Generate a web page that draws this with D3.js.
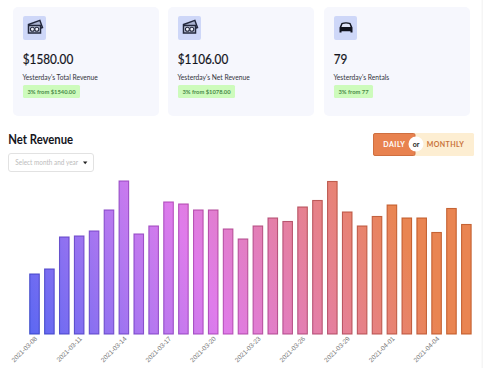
<!DOCTYPE html>
<head>
    <meta charset="utf-8">
    <script src="https://d3js.org/d3.v7.min.js"></script>
    <style>
        html, body { margin: 0; padding: 0; background: #fff; overflow: hidden; }
        svg { display: block; font-family: Lato, "Open Sans", sans-serif; }
        /* the whole page looks a bit narrowed, so text is squeezed from its left edge */
        .sq { transform-box: fill-box; transform-origin: 0 50%; transform: scaleX(0.87); }
        .amount { font-size: 13.5px; fill: #14141c; stroke: #14141c; stroke-width: 0.2px; }
        .caption { font-size: 7.7px; fill: #33343c; }
        .pill { font-size: 5.8px; font-weight: 700; fill: #4a8a4a; }
        .title { font-size: 13px; font-weight: 700; fill: #14141c; }
        .tick text { font-size: 6.5px; fill: #777; }
    </style>
</head>
<body>
<svg id="chart" width="483" height="368"></svg>
<script>
    // data
    var days = ["2021-03-08","2021-03-09","2021-03-10","2021-03-11","2021-03-12","2021-03-13","2021-03-14","2021-03-15","2021-03-16","2021-03-17",
        "2021-03-18","2021-03-19","2021-03-20","2021-03-21","2021-03-22","2021-03-23","2021-03-24","2021-03-25","2021-03-26","2021-03-27",
        "2021-03-28","2021-03-29","2021-03-30","2021-03-31","2021-04-01","2021-04-02","2021-04-03","2021-04-04","2021-04-05","2021-04-06"];
    var netRevenue = [600,650,970,980,1030,1240,1530,1000,1080,1320,1300,1240,1240,1050,950,1080,1160,1125,1270,1335,1525,1220,1080,1175,1290,1160,1160,1015,1255,1095];
    var amounts = ["$1580.00","$1106.00","79"];
    var captions = ["Yesterday's Total Revenue","Yesterday's Net Revenue","Yesterday's Rentals"];
    var pills = ["3% from $1540.00","3% from $1078.00","3% from 77"];
    var pillWidths = [57,57,39];
    var cardX = [13,168,324];
    var cardIcons = ["money","money","car"];

    var svg = d3.select("#chart");
    var defs = svg.append("defs");

    // one gradient over the whole plot, bars just show their piece of it
    var grad = defs.append("linearGradient").attr("id","barFill")
        .attr("gradientUnits","userSpaceOnUse")
        .attr("x1",30).attr("y1",334).attr("x2",385).attr("y2",190);
    var gradStops = [[0,"#5c68f2"],[0.3,"#b478f0"],[0.47,"#df7ceb"],[0.75,"#e5809a"],[1,"#e98552"]];
    gradStops.forEach(function(s){ grad.append("stop").attr("offset",s[0]).attr("stop-color",s[1]); });

    var gradLine = defs.append("linearGradient").attr("id","barLine")
        .attr("gradientUnits","userSpaceOnUse")
        .attr("x1",30).attr("y1",334).attr("x2",385).attr("y2",190);
    var lineStops = [[0,"#2c3ec4"],[0.3,"#7f3fc4"],[0.47,"#ad3fb4"],[0.75,"#ae4458"],[1,"#bd5320"]];
    lineStops.forEach(function(s){ gradLine.append("stop").attr("offset",s[0]).attr("stop-color",s[1]); });

    // cards -------------------------------------------------------------
    var cards = svg.selectAll("g.card").data(d3.range(3)).enter().append("g")
        .attr("class","card")
        .attr("transform",function(i){ return "translate("+cardX[i]+",7)"; });

    cards.append("rect").attr("width",146).attr("height",109).attr("rx",5).attr("fill","#f6f7fd");
    cards.append("rect").attr("x",10).attr("y",9).attr("width",23).attr("height",24).attr("rx",2).attr("fill","#ced7f8");

    cards.each(function(i){
        var ic = d3.select(this).append("g").attr("transform","translate(22,20.5)");
        if (cardIcons[i] === "money") {
            // back bill, front bill, two coins
            ic.append("rect").attr("x",-5).attr("y",-5).attr("width",12).attr("height",7.5)
                .attr("transform","rotate(-20)").attr("fill","#aab2d0").attr("stroke","#23283c").attr("stroke-width",1.5);
            ic.append("rect").attr("x",-6.5).attr("y",-2).attr("width",12).attr("height",7.5)
                .attr("fill","#c4cbe4").attr("stroke","#23283c").attr("stroke-width",1.5);
            ic.append("circle").attr("cx",-2.6).attr("cy",1.8).attr("r",2).attr("fill","#eef0fa").attr("stroke","#23283c").attr("stroke-width",1.1);
            ic.append("circle").attr("cx",1.8).attr("cy",1.8).attr("r",2).attr("fill","#eef0fa").attr("stroke","#23283c").attr("stroke-width",1.1);
        } else {
            ic.append("path").attr("d","M-6.5,0 L-4.5,-4.5 Q0,-6 4.5,-4.5 L6.5,0 L6.5,5 L4.5,5 L4.5,3.8 L-4.5,3.8 L-4.5,5 L-6.5,5 Z").attr("fill","#11131f");
            ic.append("path").attr("d","M-4.6,-0.6 L-3.4,-3.6 Q0,-4.6 3.4,-3.6 L4.6,-0.6 Z").attr("fill","#dfe4f8");
        }
    });

    cards.append("text").attr("class","amount sq").attr("x",9.8).attr("y",57).text(function(i){ return amounts[i]; });
    cards.append("text").attr("class","caption sq").attr("x",9.4).attr("y",73).text(function(i){ return captions[i]; });
    cards.append("rect").attr("x",10).attr("y",78).attr("width",function(i){ return pillWidths[i]; }).attr("height",13).attr("rx",1.5).attr("fill","#cdfbbc");
    cards.append("text").attr("class","pill").attr("x",function(i){ return 10+pillWidths[i]/2; }).attr("y",87)
        .attr("text-anchor","middle").text(function(i){ return pills[i]; });

    // header ------------------------------------------------------------
    svg.append("text").attr("class","title sq").attr("x",8.3).attr("y",144).text("Net Revenue");
    svg.append("rect").attr("x",8.5).attr("y",153.5).attr("width",85).attr("height",18).attr("rx",2.5)
        .attr("fill","#fff").attr("stroke","#e2e2e2");
    svg.append("text").attr("class","sq").attr("x",15.3).attr("y",165).attr("font-size",7.4).attr("fill","#bcbcbc").text("Select month and year");
    svg.append("path").attr("d","M83,161.5 L87.4,161.5 L85.2,164.2 Z").attr("fill","#222");

    // daily / monthly toggle
    svg.append("rect").attr("x",373).attr("y",133).attr("width",101).attr("height",23).attr("rx",1.5).attr("fill","#fdeed2");
    svg.append("rect").attr("x",373.5).attr("y",133.5).attr("width",41.5).attr("height",22).attr("rx",1.5).attr("fill","#e8824f").attr("stroke","#cf6f40");
    svg.append("circle").attr("cx",416).attr("cy",144).attr("r",7.5).attr("fill","#fff");
    svg.append("text").attr("x",383.3).attr("y",147).attr("font-size",7).attr("font-weight",700).attr("letter-spacing",0.5).attr("fill","#fff").text("DAILY");
    svg.append("text").attr("x",416).attr("y",146.8).attr("font-size",7).attr("font-weight",700).attr("text-anchor","middle").attr("fill","#222").text("or");
    svg.append("text").attr("x",426.7).attr("y",147).attr("font-size",7).attr("font-weight",700).attr("letter-spacing",0.4).attr("fill","#c9733a").text("MONTHLY");
    svg.append("rect").attr("x",481.5).attr("y",0).attr("width",1.5).attr("height",368).attr("fill","#f5f5f5");

    // bars --------------------------------------------------------------
    var x = d3.scaleBand().domain(days).range([27.07,473.8]).paddingInner(0.36).paddingOuter(0.18);
    var y = d3.scaleLinear().domain([0,1530]).range([334,181]);

    svg.append("g").selectAll("rect").data(days).enter().append("rect")
        .attr("x",function(d){ return x(d); })
        .attr("y",function(d,i){ return y(netRevenue[i]); })
        .attr("width",x.bandwidth())
        .attr("height",function(d,i){ return y(0)-y(netRevenue[i]); })
        .attr("fill","url(#barFill)")
        .attr("stroke","url(#barLine)")
        .attr("stroke-opacity",0.85)
        .attr("stroke-width",1.1);

    var tickDays = days.filter(function(d,i){ return i % 3 === 0; });
    var axis = svg.append("g").attr("transform","translate(0,334)")
        .call(d3.axisBottom(x).tickValues(tickDays).tickSize(0).tickPadding(4));
    axis.select(".domain").remove();
    axis.selectAll("text")
        .attr("text-anchor","end")
        .attr("transform","translate(-2,0) rotate(-45)")
        .attr("dx","0em")
        .attr("dy","0.5em");
</script>
</body>
